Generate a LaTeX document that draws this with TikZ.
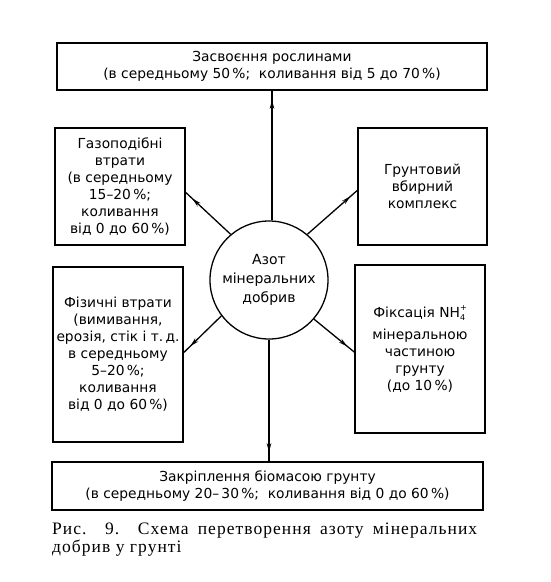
\documentclass[tikz,border=0pt]{standalone}
\usepackage{fontspec}
\setmainfont{DejaVu Sans}
\newfontfamily\capfont[LetterSpace=6]{Liberation Serif}
\usetikzlibrary{arrows.meta,decorations.markings}
\begin{document}
\begin{tikzpicture}[x=1pt,y=-1pt,
  box/.style={draw,line width=1.6pt,align=center,inner sep=0pt,
    font=\fontsize{13.8}{17}\selectfont},
  conn/.style={line width=1.3pt,
    postaction={decorate,decoration={markings,
      mark=at position -9pt with {\arrow{Stealth[length=9pt,width=4.5pt]}}}}}]
\useasboundingbox (0,0) rectangle (550,582);
\node[box,minimum width=430pt,minimum height=47pt] (top) at (272,66.5)
  {Засвоєння рослинами\\(в середньому 50\,\%;\ \ коливання від 5 до 70\,\%)};
\node[box,minimum width=431pt,minimum height=48pt] (bot) at (267.5,486)
  {Закріплення біомасою грунту\\(в середньому 20–\,30\,\%;\ \ коливання від 0 до 60\,\%)};
\node[box,minimum width=130pt,minimum height=117pt] (tl) at (120,186.5)
  {Газоподібні\\втрати\\(в середньому\\15–20\,\%;\\коливання\\від 0 до 60\,\%)};
\node[box,minimum width=129pt,minimum height=117pt] (tr) at (422.5,186.5)
  {Грунтовий\\вбирний\\комплекс};
\node[box,minimum width=130pt,minimum height=175pt] (bl) at (118,354.5)
  {Фізичні втрати\\(вимивання,\\ерозія, стік і т.\,д.\\в середньому\\5–20\,\%;\\коливання\\від 0 до 60\,\%)};
\node[box,minimum width=130pt,minimum height=168pt] (br) at (420,349)
  {Фіксація NH\raisebox{-0.45ex}{\rlap{\footnotesize 4}}\raisebox{0.9ex}{\footnotesize +}\\[5pt]мінеральною\\частиною\\грунту\\(до 10\,\%)};
\node[draw,circle,line width=1.3pt,minimum size=118pt,inner sep=0pt,align=center,
  font=\fontsize{14}{19}\selectfont] (c) at (269,280)
  {Азот\\мінеральних\\добрив};
\draw[conn] (c.north -| top.south) -- (top.south);
\draw[conn] (c.south) -- (c.south |- bot.north);
\draw[conn] (c.130) -- ([yshift=-6pt]tl.east);
\draw[conn] (c.50) -- ([yshift=-4pt]tr.west);
\draw[conn] (c.217) -- ([yshift=2pt]bl.east);
\draw[conn] (c.319) -- ([yshift=-3pt]br.west);
\node[anchor=north west,inner sep=0pt,text width=425pt,align=justify,
  font=\capfont\fontsize{17.5}{18}\selectfont] (cap) at (52,523)
  {Рис. 9. Схема перетворення азоту мінеральних\linebreak добрив у грунті};
\end{tikzpicture}
\end{document}
